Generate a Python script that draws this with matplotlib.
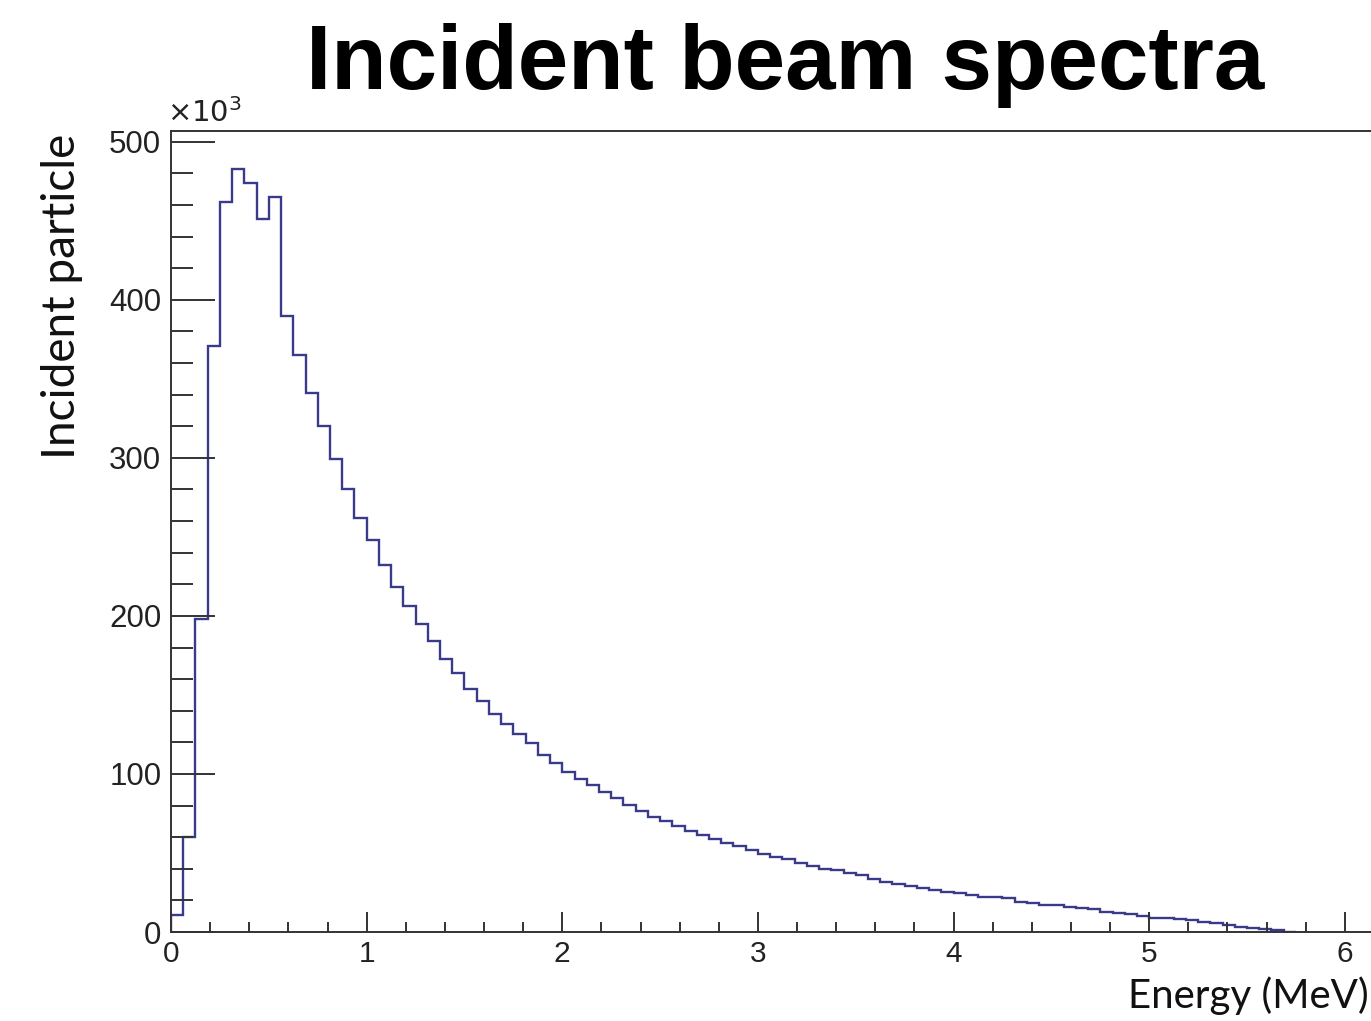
import numpy as np
import matplotlib.pyplot as plt
from matplotlib.ticker import MultipleLocator

# histogram of incident beam energies, counts in units of 10^3
bin_width = 0.0625  # MeV
counts_k = [
    11, 60, 198, 371, 462, 483, 474, 451, 465, 390,
    365, 341, 320, 299, 280, 262, 248, 232, 218, 206,
    195, 184, 173, 164, 154, 146, 138, 131.6, 125.1, 119.4,
    112.0, 106.7, 101.4, 96.8, 93.0, 88.4, 84.6, 80.4, 76.6, 73.0,
    70.2, 67.1, 63.9, 61.4, 58.7, 56.1, 54.4, 51.9, 49.4, 47.3,
    46.0, 43.8, 41.9, 39.9, 39.0, 37.1, 36.1, 33.3, 31.8, 30.4,
    29.1, 27.6, 26.6, 25.5, 24.9, 23.4, 22.3, 22.0, 21.3, 19.2,
    18.2, 17.3, 17.0, 16.0, 15.0, 14.3, 12.8, 12.2, 11.4, 10.1,
    8.7, 9.0, 8.0, 7.5, 6.5, 5.5, 4.4, 3.4, 2.7, 1.8,
    1.5, 0.3,
]
edges = np.arange(len(counts_k) + 1) * bin_width

title = "Incident beam spectra"
xlabel = "Energy (MeV)"
ylabel = "Incident particle"

axis_col = "#333333"
line_col = "#3a3a8a"

fig = plt.figure(figsize=(13.71, 10.21), dpi=100)
ax = fig.add_axes([171 / 1371, 89 / 1021, 0.899, 801 / 1021])

ax.stairs(counts_k, edges, color=line_col, linewidth=1.7, baseline=0)

ax.set_xlim(0, 6.3)
ax.set_ylim(0, 506.8)

ax.xaxis.set_major_locator(MultipleLocator(1))
ax.xaxis.set_minor_locator(MultipleLocator(0.2))
ax.yaxis.set_major_locator(MultipleLocator(100))
ax.yaxis.set_minor_locator(MultipleLocator(20))

ax.tick_params(axis="y", which="major", direction="in", length=32, width=1.4,
               color=axis_col, labelsize=22.5, labelcolor="#222222", pad=7)
ax.tick_params(axis="y", which="minor", direction="in", length=16, width=1.4, color=axis_col)
ax.tick_params(axis="x", which="major", direction="in", length=14.5, width=1.4,
               color=axis_col, labelsize=21.5, labelcolor="#222222", pad=6)
ax.tick_params(axis="x", which="minor", direction="in", length=7.2, width=1.4, color=axis_col)

for s in ("left", "bottom", "top"):
    ax.spines[s].set_color(axis_col)
    ax.spines[s].set_linewidth(1.4)
ax.spines["right"].set_visible(False)

for lab in ax.get_xticklabels() + ax.get_yticklabels():
    lab.set_fontfamily("Liberation Sans")

ax.text(-0.003, 1.004, r"$\times10^{3}$", transform=ax.transAxes, fontsize=21,
        color="#222222", ha="left", va="bottom", family="Liberation Sans")

fig.text(785 / 1371, 1 - 66 / 1021, title, fontsize=65.3, fontweight="bold",
         family="Liberation Sans", ha="center", va="center")

fig.text(1369 / 1371, 1 - 996 / 1021, xlabel, fontsize=29, family="Lato",
         ha="right", va="center", color="#111111")
fig.text(62 / 1371, 1 - 134 / 1021, ylabel, fontsize=33, family="Lato",
         rotation=90, ha="center", va="top", color="#111111")

fig.savefig("out.png", dpi=100)
